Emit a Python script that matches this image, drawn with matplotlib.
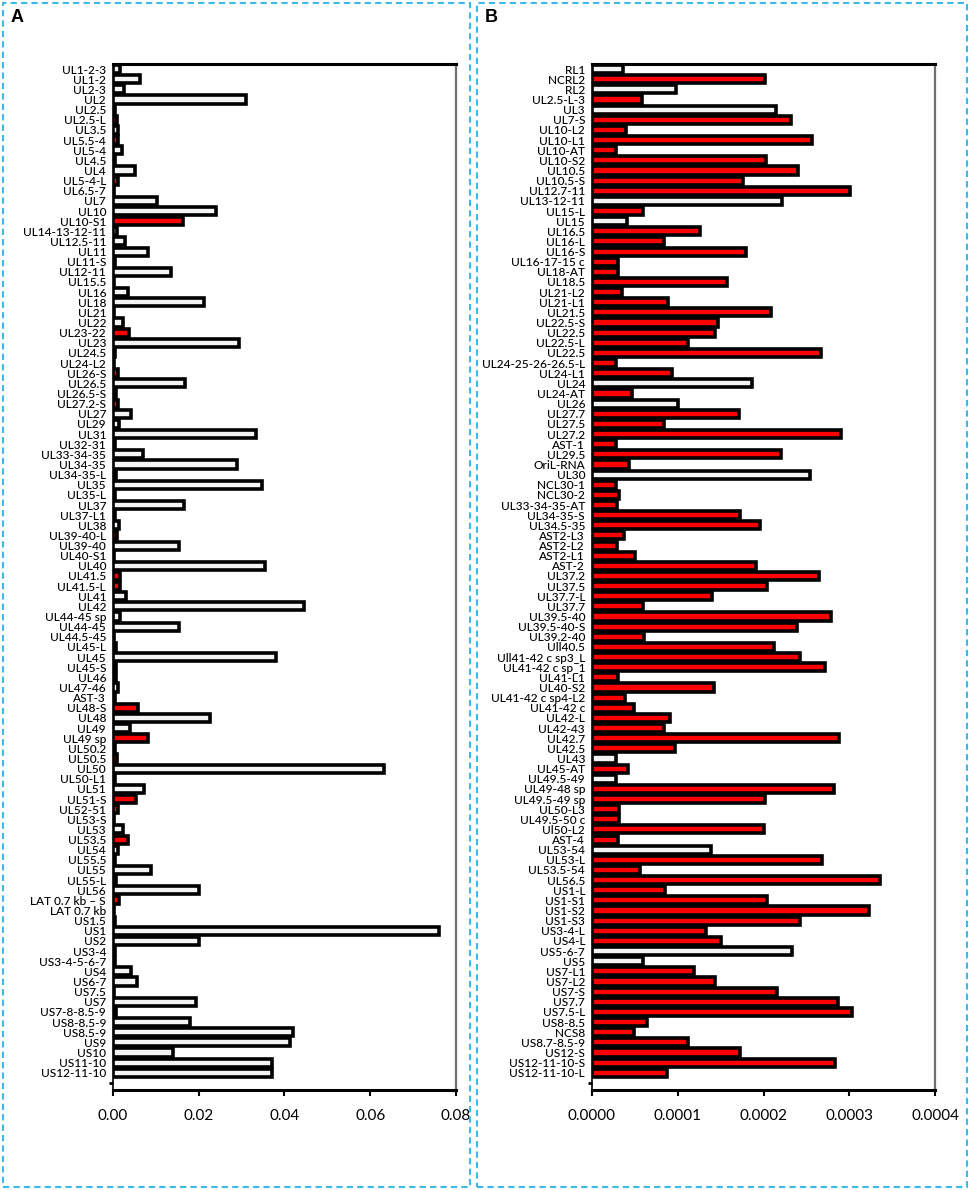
import numpy as np
import matplotlib.pyplot as plt
from matplotlib.patches import Rectangle

plt.rcParams['font.family'] = ['Lato', 'DejaVu Sans']

# panel A: labels, values, 1 = red series
labels_a = ['UL1-2-3', 'UL1-2', 'UL2-3', 'UL2', 'UL2.5', 'UL2.5-L', 'UL3.5', 'UL5.5-4', 'UL5-4', 'UL4.5',
            'UL4', 'UL5-4-L', 'UL6.5-7', 'UL7', 'UL10', 'UL10-S1', 'UL14-13-12-11', 'UL12.5-11', 'UL11', 'UL11-S',
            'UL12-11', 'UL15.5', 'UL16', 'UL18', 'UL21', 'UL22', 'UL23-22', 'UL23', 'UL24.5', 'UL24-L2',
            'UL26-S', 'UL26.5', 'UL26.5-S', 'UL27.2-S', 'UL27', 'UL29', 'UL31', 'UL32-31', 'UL33-34-35', 'UL34-35',
            'UL34-35-L', 'UL35', 'UL35-L', 'UL37', 'UL37-L1', 'UL38', 'UL39-40-L', 'UL39-40', 'UL40-S1', 'UL40',
            'UL41.5', 'UL41.5-L', 'UL41', 'UL42', 'UL44-45 sp', 'UL44-45', 'UL44.5-45', 'UL45-L', 'UL45', 'UL45-S',
            'UL46', 'UL47-46', 'AST-3', 'UL48-S', 'UL48', 'UL49', 'UL49 sp', 'UL50.2', 'UL50.5', 'UL50',
            'UL50-L1', 'UL51', 'UL51-S', 'UL52-51', 'UL53-S', 'UL53', 'UL53.5', 'UL54', 'UL55.5', 'UL55',
            'UL55-L', 'UL56', 'LAT 0.7 kb – S', 'LAT 0.7 kb', 'US1.5', 'US1', 'US2', 'US3-4', 'US3-4-5-6-7', 'US4',
            'US6-7', 'US7.5', 'US7', 'US7-8-8.5-9', 'US8-8.5-9', 'US8.5-9', 'US9', 'US10', 'US11-10', 'US12-11-10']
values_a = [0.0016, 0.0062, 0.0025, 0.0311, 0.0004, 0.0009, 0.0012, 0.0011, 0.0020, 0.0004,
            0.0051, 0.0012, 0.0002, 0.0102, 0.0240, 0.0163, 0.0010, 0.0029, 0.0081, 0.0005,
            0.0136, 0.0003, 0.0034, 0.0213, 0.0003, 0.0023, 0.0038, 0.0294, 0.0005, 0.0003,
            0.0011, 0.0169, 0.0006, 0.0012, 0.0043, 0.0015, 0.0334, 0.0005, 0.0070, 0.0289,
            0.0006, 0.0347, 0.0005, 0.0166, 0.0005, 0.0015, 0.0009, 0.0154, 0.0003, 0.0355,
            0.0016, 0.0017, 0.0030, 0.0446, 0.0016, 0.0154, 0.0003, 0.0006, 0.0381, 0.0006,
            0.0007, 0.0012, 0.0004, 0.0058, 0.0226, 0.0040, 0.0082, 0.0005, 0.0009, 0.0632,
            0.0005, 0.0073, 0.0054, 0.0012, 0.0002, 0.0024, 0.0036, 0.0012, 0.0005, 0.0088,
            0.0006, 0.0200, 0.0015, 0.0002, 0.0005, 0.0760, 0.0200, 0.0005, 0.0004, 0.0043,
            0.0057, 0.0002, 0.0194, 0.0006, 0.0179, 0.0419, 0.0412, 0.0141, 0.0372, 0.0372]
red_a = [0, 0, 0, 0, 1, 1, 0, 1, 0, 1,
         0, 1, 1, 0, 0, 1, 0, 0, 0, 1,
         0, 1, 0, 0, 0, 0, 1, 0, 1, 1,
         1, 0, 1, 1, 0, 0, 0, 0, 0, 0,
         1, 0, 1, 0, 1, 0, 1, 0, 1, 0,
         1, 1, 0, 0, 0, 0, 1, 1, 0, 1,
         0, 0, 1, 1, 0, 0, 1, 1, 1, 0,
         1, 0, 1, 1, 1, 0, 1, 0, 1, 0,
         1, 0, 1, 0, 0, 0, 0, 0, 1, 0,
         0, 1, 0, 1, 0, 0, 0, 0, 0, 0]

# panel B
labels_b = ['RL1', 'NCRL2', 'RL2', 'UL2.5-L-3', 'UL3', 'UL7-S', 'UL10-L2', 'UL10-L1', 'UL10-AT', 'UL10-S2',
            'UL10.5', 'UL10.5-S', 'UL12.7-11', 'UL13-12-11', 'UL15-L', 'UL15', 'UL16.5', 'UL16-L', 'UL16-S', 'UL16-17-15 c',
            'UL18-AT', 'UL18.5', 'UL21-L2', 'UL21-L1', 'UL21.5', 'UL22.5-S', 'UL22.5', 'UL22.5-L', 'UL22.5', 'UL24-25-26-26.5-L',
            'UL24-L1', 'UL24', 'UL24-AT', 'UL26', 'UL27.7', 'UL27.5', 'UL27.2', 'AST-1', 'UL29.5', 'OriL-RNA',
            'UL30', 'NCL30-1', 'NCL30-2', 'UL33-34-35-AT', 'UL34-35-S', 'UL34.5-35', 'AST2-L3', 'AST2-L2', 'AST2-L1', 'AST-2',
            'UL37.2', 'UL37.5', 'UL37.7-L', 'UL37.7', 'UL39.5-40', 'UL39.5-40-S', 'UL39.2-40', 'Ull40.5', 'Ull41-42 c sp3_L', 'UL41-42 c sp_1',
            'UL41-L1', 'UL40-S2', 'UL41-42 c sp4-L2', 'UL41-42 c', 'UL42-L', 'UL42-43', 'UL42.7', 'UL42.5', 'UL43', 'UL45-AT',
            'UL49.5-49', 'UL49-48 sp', 'UL49.5-49 sp', 'UL50-L3', 'UL49.5-50 c', 'Ul50-L2', 'AST-4', 'UL53-54', 'UL53-L', 'UL53.5-54',
            'UL56.5', 'US1-L', 'US1-S1', 'US1-S2', 'US1-S3', 'US3-4-L', 'US4-L', 'US5-6-7', 'US5', 'US7-L1',
            'US7-L2', 'US7-S', 'US7.7', 'US7.5-L', 'US8-8.5', 'NCS8', 'US8.7-8.5-9', 'US12-S', 'US12-11-10-S', 'US12-11-10-L']
values_b = [3.57e-5, 2.023e-4, 9.79e-5, 5.83e-5, 2.143e-4, 2.318e-4, 3.96e-5, 2.570e-4, 2.83e-5, 2.031e-4,
            2.400e-4, 1.759e-4, 3.010e-4, 2.210e-4, 5.94e-5, 4.08e-5, 1.254e-4, 8.43e-5, 1.794e-4, 2.99e-5,
            2.99e-5, 1.569e-4, 3.53e-5, 8.85e-5, 2.093e-4, 1.472e-4, 1.429e-4, 1.122e-4, 2.675e-4, 2.80e-5,
            9.28e-5, 1.868e-4, 4.66e-5, 1.002e-4, 1.716e-4, 8.43e-5, 2.900e-4, 2.80e-5, 2.206e-4, 4.31e-5,
            2.543e-4, 2.83e-5, 3.11e-5, 2.95e-5, 1.728e-4, 1.965e-4, 3.69e-5, 2.95e-5, 4.97e-5, 1.918e-4,
            2.644e-4, 2.046e-4, 1.402e-4, 5.98e-5, 2.784e-4, 2.388e-4, 6.10e-5, 2.120e-4, 2.423e-4, 2.718e-4,
            3.07e-5, 1.425e-4, 3.81e-5, 4.89e-5, 9.13e-5, 8.35e-5, 2.885e-4, 9.71e-5, 2.83e-5, 4.15e-5,
            2.76e-5, 2.819e-4, 2.023e-4, 3.11e-5, 3.11e-5, 2.011e-4, 2.99e-5, 1.382e-4, 2.679e-4, 5.63e-5,
            3.355e-4, 8.50e-5, 2.042e-4, 3.231e-4, 2.427e-4, 1.328e-4, 1.510e-4, 2.334e-4, 5.98e-5, 1.184e-4,
            1.429e-4, 2.163e-4, 2.874e-4, 3.029e-4, 6.41e-5, 4.89e-5, 1.122e-4, 1.728e-4, 2.831e-4, 8.74e-5]
red_b = [0, 1, 0, 1, 0, 1, 1, 1, 1, 1,
         1, 1, 1, 0, 1, 0, 1, 1, 1, 1,
         1, 1, 1, 1, 1, 1, 1, 1, 1, 1,
         1, 0, 1, 0, 1, 1, 1, 1, 1, 1,
         0, 1, 1, 1, 1, 1, 1, 1, 1, 1,
         1, 1, 1, 1, 1, 1, 1, 1, 1, 1,
         1, 1, 1, 1, 1, 1, 1, 1, 0, 1,
         0, 1, 1, 1, 1, 1, 1, 0, 1, 1,
         1, 1, 1, 1, 1, 1, 1, 0, 0, 1,
         1, 1, 1, 1, 1, 1, 1, 1, 1, 1]

xticks_a = [0.0, 0.02, 0.04, 0.06, 0.08]
xticks_b = [0.0, 0.0001, 0.0002, 0.0003, 0.0004]

W, H = 970, 1190
fig = plt.figure(figsize=(W / 100, H / 100), dpi=100)


def draw_panel(rect, labels, values, red, xticks, fmt):
    ax = fig.add_axes(rect)
    n = len(labels)
    y = np.arange(n)
    colors = ['#ff0000' if r else '#f4f4f4' for r in red]
    ax.barh(y, values, height=0.8, color=colors, edgecolor='black', linewidth=2.6)
    ax.set_ylim(n + 0.7, -0.5)
    ax.set_xlim(xticks[0], xticks[-1])
    ax.set_xticks(xticks)
    ax.set_xticklabels([fmt % t for t in xticks], fontsize=11)
    ax.set_yticks(y)
    ax.set_yticklabels(labels, fontsize=8.6, fontweight='medium')
    ax.tick_params(axis='y', which='major', length=0, pad=5)
    ax.set_yticks(np.arange(0, n + 1, 10), minor=True)
    ax.tick_params(axis='y', which='minor', length=3, width=2, color='black')
    ax.tick_params(axis='x', length=4, width=1.5, pad=10)
    for s in ['top', 'bottom']:
        ax.spines[s].set_linewidth(2.2)
        ax.spines[s].set_color('black')
    ax.spines['left'].set_linewidth(1.2)
    ax.spines['right'].set_linewidth(1.6)
    ax.spines['right'].set_color('#707070')
    return ax


bottom = 1 - 1090 / H
height = (1090 - 64) / H
draw_panel([113 / W, bottom, 343 / W, height], labels_a, values_a, red_a, xticks_a, '%.2f')
draw_panel([592 / W, bottom, 343 / W, height], labels_b, values_b, red_b, xticks_b, '%.4f')

# dashed panel frames and letters
for x0, x1, letter in [(3, 470, 'A'), (477, 967, 'B')]:
    fig.patches.append(Rectangle((x0 / W, 3 / H), (x1 - x0) / W, (H - 6) / H, transform=fig.transFigure,
                                 fill=False, edgecolor='#3db8ea', linewidth=1.5, linestyle=(0, (3, 2))))
    fig.text((x0 + 8) / W, 1 - 18 / H, letter, fontsize=13, fontweight='bold', va='center', ha='left',
             family=['Liberation Sans', 'DejaVu Sans'])

fig.savefig('out.png', dpi=100)
